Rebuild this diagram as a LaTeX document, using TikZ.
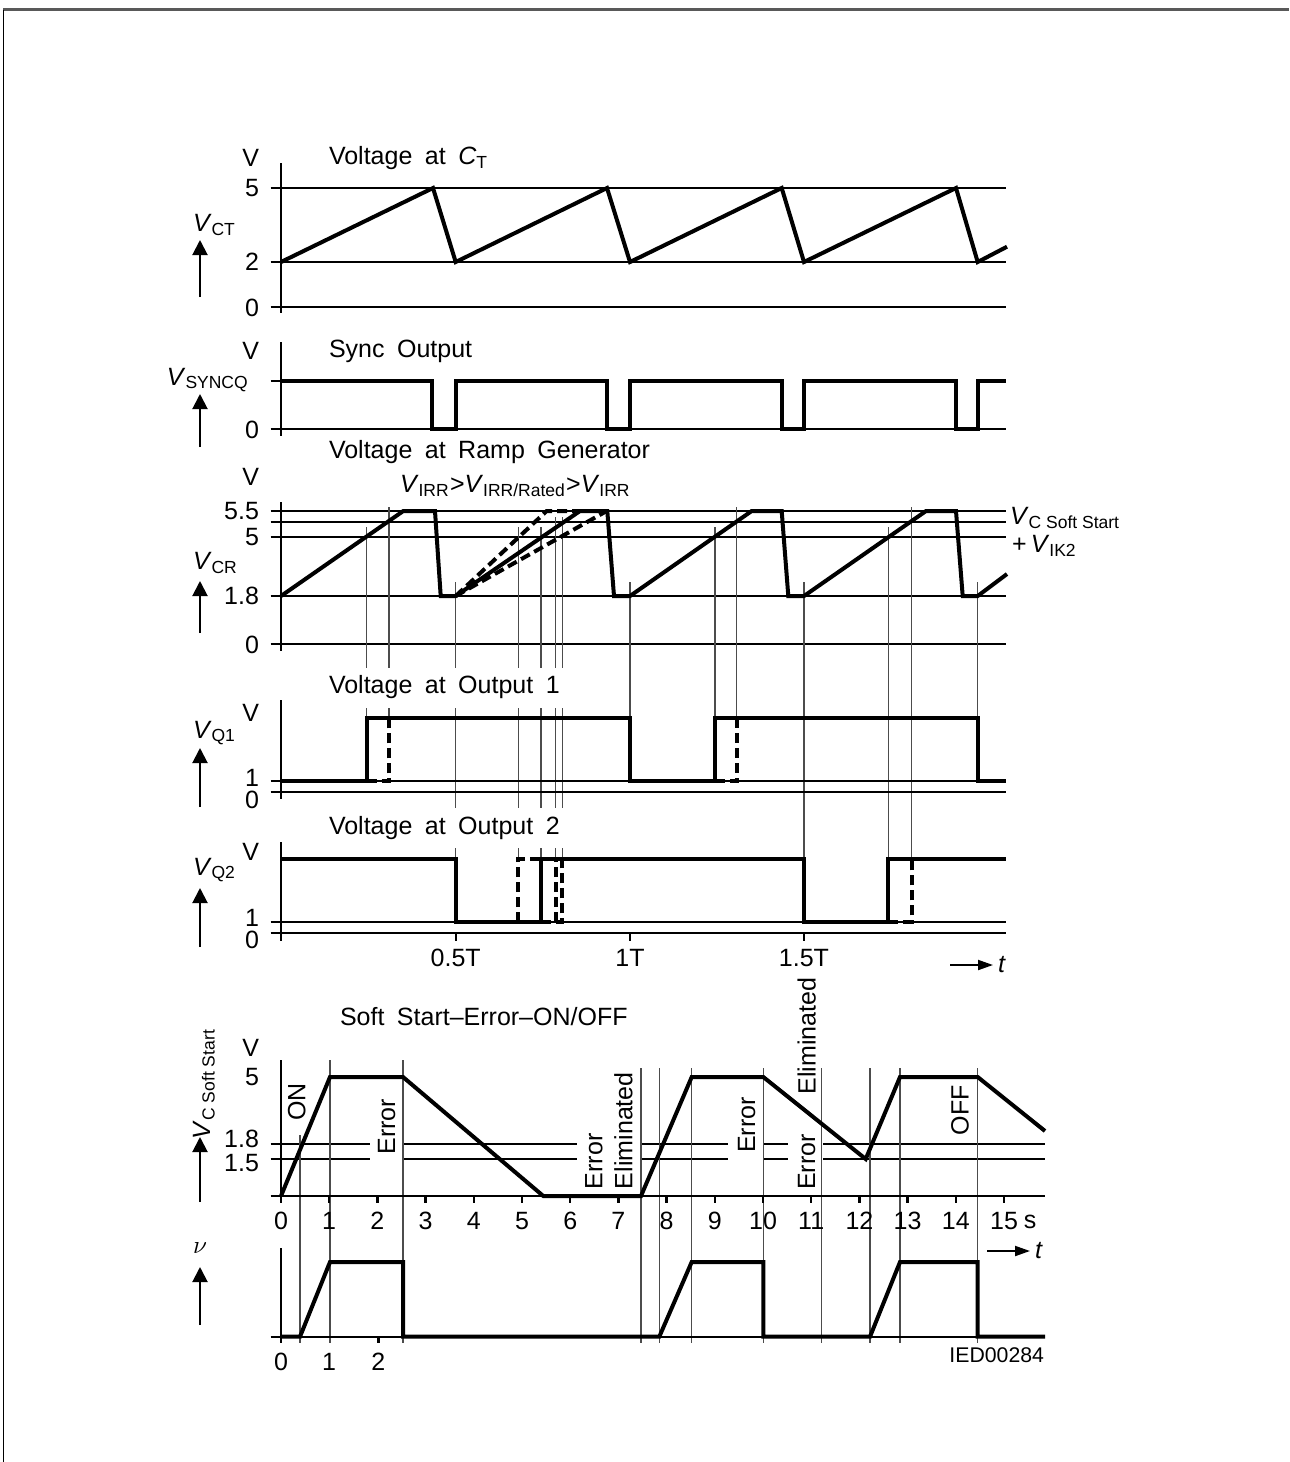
\documentclass[tikz,border=0pt]{standalone}
\usepackage{fontspec}
\setmainfont{Liberation Sans}
\usetikzlibrary{arrows.meta}

\newcommand{\vsig}[1]{\textit{V}\textsubscript{#1}}

\begin{document}
\begin{tikzpicture}[x=0.4pt, y=-0.4pt,
    every node/.style={inner sep=1pt, font=\fontsize{10}{12}\selectfont},
    sig/.style={line width=1.6pt},
    dsig/.style={line width=1.6pt, dash pattern=on 4pt off 2pt},
    lvl/.style={line width=0.45pt},
    guide/.style={line width=0.45pt, black!70},
    axisline/.style={line width=0.9pt},
    ylab/.style={anchor=east},
    vlab/.style={anchor=west},
    ttl/.style={anchor=west, execute at begin node={\spaceskip=5pt\relax}},
    uparrow/.style={line width=0.8pt, -{Triangle[length=6pt, width=6pt]}},
    tarrow/.style={line width=0.8pt, -{Triangle[length=6pt, width=4pt]}}]
      \useasboundingbox (0,0) rectangle (1289,1462);
      \draw[line width=1pt, black!65] (3,9.5) -- (1289,9.5);
      \draw[line width=0.4pt] (3.5,9.5) -- (3.5,1462);
      \draw[lvl] (270.7,188) -- (1006,188);
      \draw[lvl] (270.7,262) -- (1006,262);
      \draw[axisline] (270.7,307) -- (1006,307);
      \draw[axisline] (281,163) -- (281,313);
      \draw[sig] (281,262) -- (433,188) -- (455.7,262) -- (607,188) -- (630,262) -- (781.7,188) -- (804,262) -- (956,188) -- (977.7,262) -- (1007,246.7);
      \node[ylab] (ctv) at (262,158) {V};
      \node[ylab] (ct5) at (262,188) {5};
      \node[ylab] (ct2) at (262,262) {2};
      \node[ylab] (ct0) at (262,308) {0};
      \node[ttl] (ctttl) at (326,158) {Voltage at \textit{C}\textsubscript{T}};
      \node[vlab] (vct) at (190,225) {\vsig{CT}};
      \draw[uparrow] (200,297) -- (200,240);
      \draw[lvl] (270.7,381) -- (281,381);
      \draw[axisline] (270.7,429) -- (1006,429);
      \draw[axisline] (281,342) -- (281,436);
      \draw[sig] (281,381) -- (432,381) -- (432,429) -- (455.7,429) -- (455.7,381) -- (607,381) -- (607,429) -- (630,429) -- (630,381) -- (781.7,381) -- (781.7,429) -- (804,429) -- (804,381) -- (956,381) -- (956,429) -- (977.7,429) -- (977.7,381) -- (1006,381);
      \node[ylab] (syv) at (262,351) {V};
      \node[ylab] (sy0) at (262,430) {0};
      \node[ttl] (syttl) at (326,351) {Sync Output};
      \node[anchor=east] (vsy) at (252,380) {\vsig{SYNCQ}};
      \draw[uparrow] (200,447) -- (200,394);
      \draw[lvl] (270.7,511) -- (1006,511);
      \draw[lvl] (270.7,522) -- (1006,522);
      \draw[lvl] (270.7,537) -- (1006,537);
      \draw[lvl] (270.7,596) -- (1006,596);
      \draw[axisline] (270.7,644) -- (1006,644);
      \draw[axisline] (281,502) -- (281,651);
      \draw[guide] (366.7,527) -- (366.7,668) (366.7,708) -- (366.7,718);
      \draw[guide] (389,507) -- (389,668) (389,708) -- (389,718);
      \draw[guide] (455.7,582) -- (455.7,668) (455.7,708) -- (455.7,808) (455.7,848) -- (455.7,859);
      \draw[guide] (518.3,527) -- (518.3,668) (518.3,708) -- (518.3,808) (518.3,848) -- (518.3,859);
      \draw[guide] (541,527) -- (541,668) (541,708) -- (541,808) (541,848) -- (541,859);
      \draw[guide] (555.7,517) -- (555.7,668) (555.7,708) -- (555.7,808) (555.7,848) -- (555.7,859);
      \draw[guide] (562.3,517) -- (562.3,668) (562.3,708) -- (562.3,808) (562.3,848) -- (562.3,859);
      \draw[guide] (630,582) -- (630,718);
      \draw[guide] (715,527) -- (715,718);
      \draw[guide] (736.7,507) -- (736.7,718);
      \draw[guide] (804,582) -- (804,859);
      \draw[guide] (888.3,527) -- (888.3,859);
      \draw[guide] (911.7,507) -- (911.7,859);
      \draw[guide] (977.7,582) -- (977.7,718);
      \draw[sig] (281,596) -- (403.3,511) -- (435,511) -- (440.7,596) -- (455.7,596) -- (580,511) -- (607.3,511) -- (614,596) -- (630,596) -- (751.7,511) -- (781.7,511) -- (788.3,596) -- (804,596) -- (926,511) -- (956,511) -- (962.7,596) -- (977.7,596) -- (1007,574);
      \draw[dsig] (455.7,596) -- (546.7,511) -- (580,511);
      \draw[dsig] (455.7,596) -- (606.7,511);
      \node[ttl] (rgttl) at (326,452) {Voltage at Ramp Generator};
      \node[anchor=west] (rgsub) at (397,486) {\vsig{IRR}>\vsig{IRR/Rated}>\vsig{IRR}};
      \node[ylab] (rgv) at (262,477) {V};
      \node[ylab] (rg55) at (262,511) {5.5};
      \node[ylab] (rg5) at (262,537) {5};
      \node[ylab] (rg18) at (262,596) {1.8};
      \node[ylab] (rg0) at (262,645) {0};
      \node[vlab] (vcr) at (190,563) {\vsig{CR}};
      \draw[uparrow] (200,633) -- (200,581);
      \node[anchor=west] (rgss) at (1007,518) {\vsig{C Soft Start}};
      \node[anchor=west] (rgik) at (1009,546) {+\,\vsig{IK2}};
      \draw[lvl] (270.7,781) -- (1006,781);
      \draw[axisline] (270.7,792.3) -- (1006,792.3);
      \draw[axisline] (281,700) -- (281,799);
      \draw[sig] (281,781) -- (366.7,781) -- (366.7,718) -- (630,718) -- (630,781) -- (715,781) -- (715,718) -- (977.7,718) -- (977.7,781) -- (1006,781);
      \draw[dsig] (366.7,781) -- (389,781) -- (389,718);
      \draw[dsig] (715,781) -- (736.7,781) -- (736.7,718);
      \node[ttl] (q1ttl) at (326,687) {Voltage at Output 1};
      \node[ylab] (q1v) at (262,713) {V};
      \node[ylab] (q11) at (262,778) {1};
      \node[ylab] (q10) at (262,800) {0};
      \node[vlab] (vq1) at (190,733) {\vsig{Q1}};
      \draw[uparrow] (200,807) -- (200,748);
      \draw[lvl] (270.7,922) -- (1006,922);
      \draw[axisline] (270.7,933.3) -- (1006,933.3);
      \draw[axisline] (281,842) -- (281,941);
      \draw[axisline] (455.7,933.3) -- (455.7,941);
      \draw[axisline] (630,933.3) -- (630,941);
      \draw[axisline] (804,933.3) -- (804,941);
      \draw[sig] (281,859) -- (455.7,859) -- (455.7,922) -- (541,922) -- (541,859) -- (804,859) -- (804,922) -- (888.3,922) -- (888.3,859) -- (1006,859);
      \draw[dsig] (518.3,922) -- (518.3,859) -- (541,859);
      \draw[dsig] (541,922) -- (562.3,922) -- (562.3,859);
      \draw[dsig] (555.7,922) -- (555.7,859);
      \draw[dsig] (888.3,922) -- (911.7,922) -- (911.7,859);
      \node[ttl] (q2ttl) at (326,828) {Voltage at Output 2};
      \node[ylab] (q2v) at (262,852) {V};
      \node[ylab] (q21) at (262,918) {1};
      \node[ylab] (q20) at (262,940) {0};
      \node[vlab] (vq2) at (190,870) {\vsig{Q2}};
      \draw[uparrow] (200,947) -- (200,888);
      \node (thalf) at (455.7,958) {0.5T};
      \node (tone) at (630,958) {1T};
      \node (tthree) at (804,958) {1.5T};
      \draw[tarrow] (950,965) -- (993,965);
      \node[anchor=west] (tax) at (995,965) {\textit{t}};
      \foreach \y in {1144,1159} {
        \draw[lvl] (270.7,\y) -- (370,\y) (403,\y) -- (576.7,\y) (641,\y) -- (728,\y) (763.3,\y) -- (788,\y) (823,\y) -- (1045,\y);
      }
      \draw[guide] (300,1135) -- (300,1343);
      \draw[guide] (330,1060) -- (330,1343);
      \draw[guide] (403,1060) -- (403,1343);
      \foreach \x in {641,659.3,691.7,763.3,821.7,870,900,977.7} {
        \draw[guide] (\x,1068) -- (\x,1343);
      }
      \draw[axisline] (270.7,1196) -- (1045,1196);
      \draw[axisline] (281,1060) -- (281,1203);
      \foreach \t in {1,...,15} {
        \draw[axisline] (281+48.2*\t,1196) -- (281+48.2*\t,1203);
        \node (ss\t) at (281+48.2*\t,1221) {\t};
      }
      \node (ss0) at (281,1221) {0};
      \node (ssunit) at (1030,1222) {s};
      \draw[sig] (281,1196) -- (330,1077) -- (403,1077) -- (543.3,1196) -- (641,1196) -- (691.7,1077) -- (763.3,1077) -- (865.7,1159) -- (900,1077) -- (977.7,1077) -- (1045,1131);
      \node[ttl] (ssttl) at (337,1017) {Soft Start–Error–ON/OFF};
      \node[ylab] (ssv) at (262,1048) {V};
      \node[ylab] (ss5) at (262,1077) {5};
      \node[ylab] (ss18) at (262,1139) {1.8};
      \node[ylab] (ss15) at (262,1163) {1.5};
      \node[rotate=90] (sslab) at (204,1084) {\vsig{C Soft Start}};
      \draw[uparrow] (200,1202) -- (200,1137);
      \node[rotate=90] (sson) at (296.7,1101.7) {ON};
      \node[rotate=90] (sserra) at (386.7,1126.7) {Error};
      \node[rotate=90, anchor=west, align=left] (sselim) at (609,1192) {Error\\Eliminated};
      \node[rotate=90] (sserrb) at (746.7,1125) {Error};
      \node[rotate=90] (sselimb) at (806.7,1036) {Eliminated};
      \node[rotate=90] (sserrc) at (806.7,1162) {Error};
      \node[rotate=90] (ssoff) at (960,1110) {OFF};
      \draw[tarrow] (987,1251) -- (1030,1251);
      \node[anchor=west] (ssax) at (1032,1251) {\textit{t}};
      \draw[axisline] (270.7,1336.7) -- (1045,1336.7);
      \draw[axisline] (281,1248) -- (281,1343);
      \draw[axisline] (378.4,1336.7) -- (378.4,1343);
      \draw[sig] (281,1336.7) -- (300,1336.7) -- (330,1262) -- (403,1262) -- (403,1336.7) -- (659.3,1336.7) -- (691.7,1262) -- (763.3,1262) -- (763.3,1336.7) -- (870,1336.7) -- (900,1262) -- (977.7,1262) -- (977.7,1336.7) -- (1045,1336.7);
      \node (nu0) at (281,1362) {0};
      \node (nu1) at (329.2,1362) {1};
      \node (nu2) at (378.4,1362) {2};
      \node (nulab) at (200,1248) {$\nu$};
      \draw[uparrow] (200,1325) -- (200,1267);
      \node[anchor=east, font=\fontsize{8.5}{10}\selectfont] (ied) at (1047,1355) {IED00284};
    \end{tikzpicture}
\end{document}
